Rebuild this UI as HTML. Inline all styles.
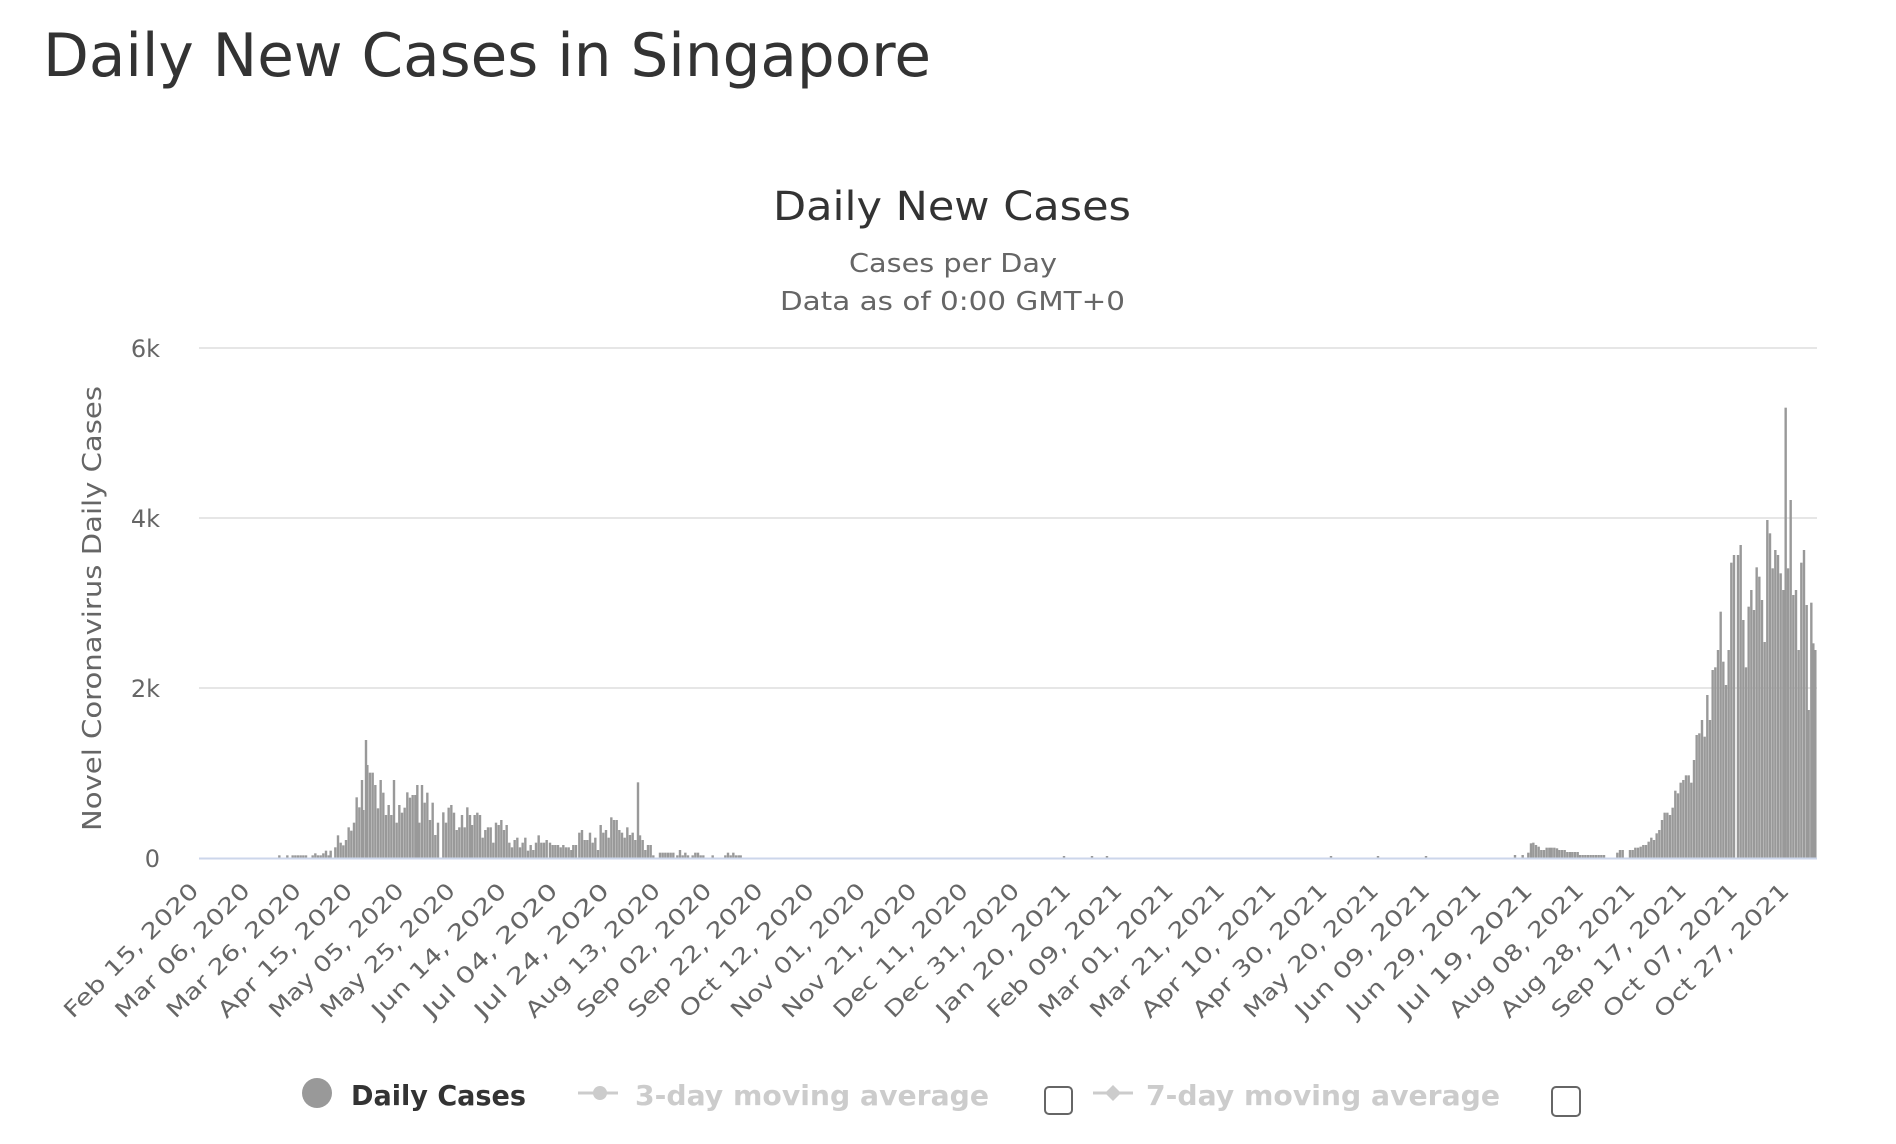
<!DOCTYPE html>
<html><head><meta charset="utf-8"><style>
html,body{margin:0;padding:0;background:#fff;width:1896px;height:1144px;overflow:hidden}
svg{display:block}
text{font-family:"DejaVu Sans","Liberation Sans",sans-serif}
</style></head><body>
<svg id="s" width="1896" height="1144" viewBox="0 0 1896 1144" xmlns="http://www.w3.org/2000/svg">
<text x="43" y="76" font-size="60" fill="#333" textLength="888" lengthAdjust="spacingAndGlyphs">Daily New Cases in Singapore</text>
<text x="773" y="220" font-size="40" fill="#333" textLength="358" lengthAdjust="spacingAndGlyphs">Daily New Cases</text>
<text x="849" y="272" font-size="26" fill="#666" textLength="208" lengthAdjust="spacingAndGlyphs">Cases per Day</text>
<text x="780" y="310" font-size="26" fill="#666" textLength="345" lengthAdjust="spacingAndGlyphs">Data as of 0:00 GMT+0</text>
<g stroke="#e6e6e6" stroke-width="2">
<line x1="199" y1="348" x2="1817" y2="348"/>
<line x1="199" y1="518" x2="1817" y2="518"/>
<line x1="199" y1="688" x2="1817" y2="688"/>
</g>
<g font-size="24" fill="#666" text-anchor="end">
<text x="160" y="357">6k</text>
<text x="160" y="527">4k</text>
<text x="160" y="697">2k</text>
<text x="160" y="867">0</text>
</g>
<text transform="translate(101,831) rotate(-90)" font-size="26" fill="#666" textLength="445" lengthAdjust="spacingAndGlyphs">Novel Coronavirus Daily Cases</text>
<g id="bars" fill="#999"></g>
<line x1="199" y1="858.5" x2="1817" y2="858.5" stroke="#ccd6eb" stroke-width="2"/>
<g id="xl" font-size="22" fill="#666" text-anchor="end"></g>
<circle cx="317" cy="1093" r="15" fill="#999"/>
<text x="351" y="1105" font-size="28" font-weight="bold" fill="#333" textLength="175" lengthAdjust="spacingAndGlyphs">Daily Cases</text>
<line x1="578" y1="1093" x2="618" y2="1093" stroke="#ccc" stroke-width="3"/>
<circle cx="600" cy="1093" r="7" fill="#ccc"/>
<text x="635" y="1105" font-size="28" font-weight="bold" fill="#ccc" textLength="354" lengthAdjust="spacingAndGlyphs">3-day moving average</text>
<rect x="1045" y="1087" width="27" height="27" rx="4" fill="#fff" stroke="#666" stroke-width="2"/>
<line x1="1093" y1="1093" x2="1133" y2="1093" stroke="#ccc" stroke-width="3"/>
<path d="M1113 1085 L1121 1093 L1113 1101 L1105 1093Z" fill="#ccc"/>
<text x="1146" y="1105" font-size="28" font-weight="bold" fill="#ccc" textLength="354" lengthAdjust="spacingAndGlyphs">7-day moving average</text>
<rect x="1552" y="1087" width="28" height="29" rx="4" fill="#fff" stroke="#666" stroke-width="2"/>
</svg>
<script>
var NS="http://www.w3.org/2000/svg";
var bars=document.getElementById("bars");
function bar(x,top){var r=document.createElementNS(NS,"rect");r.setAttribute("x",(x-1.2).toFixed(2));r.setAttribute("y",top.toFixed(2));r.setAttribute("width","2.4");r.setAttribute("height",Math.max(0,858-top).toFixed(2));bars.appendChild(r);}
var z5=[[58,376],[82,376],[98,376],[106,376],[114,376],[122,376],[130,376],[138,376],[158,376],[166,370],[174,376],[182,376],[190,370],[198,362],[206,376],[212,362],[226,352],[234,316],[242,338],[250,346],[258,330],[266,292],[274,302],[282,278],[290,202],[298,232],[306,150],[310,240],[318,30],[322,105],[330,128],[338,128],[346,165],[354,235],[362,150],[370,188],[378,255],[386,225],[394,255],[402,150],[410,278],[418,225],[426,248],[434,233],[442,187],[450,203],[458,195],[466,195],[472,165],[478,278],[486,165],[494,218],[502,188],[510,270],[518,218],[526,315],[534,278],[550,247],[558,278],[566,233],[574,225],[582,248],[590,300],[598,292],[606,255],[614,292],[622,232]];
z5.forEach(function(p){bar(260+p[0]/3,730+p[1]/3);});
var z6=[[0,255],[6,285],[14,255],[22,248],[30,255],[38,323],[46,300],[54,292],[62,292],[70,338],[78,278],[86,285],[94,270],[102,300],[110,285],[118,338],[126,352],[134,330],[142,323],[150,352],[158,338],[166,323],[174,362],[182,345],[190,360],[198,338],[206,316],[214,338],[222,338],[230,330],[240,338],[248,345],[256,345],[264,345],[272,352],[280,345],[288,352],[296,352],[304,360],[310,345],[318,345],[328,308],[336,300],[344,330],[352,330],[360,308],[368,338],[376,323],[384,360],[392,285],[400,308],[408,300],[416,323],[424,262],[432,270],[440,270],[448,300],[456,308],[464,323],[472,292],[480,315],[488,308],[496,330],[504,157],[510,316],[518,330],[526,360],[534,345],[542,345],[550,376],[570,368],[578,368],[586,368],[594,368],[602,368],[610,368],[622,376],[630,360],[638,376],[646,368],[654,376],[668,376],[676,368],[684,368],[692,376],[700,376],[728,376],[766,376],[774,368],[782,376],[790,368],[798,376],[806,376],[812,376]];
z6.forEach(function(p){bar(470+p[0]/3,730+p[1]/3);});
[1064,1092,1107,1331,1378,1426].forEach(function(x){bar(x,856);});
var z2=[[45,1425],[68,1425],[85,1418],[93,1390],[100,1388],[108,1395],[116,1400],[124,1410],[132,1410],[140,1403],[148,1403],[155,1403],[163,1403],[171,1405],[178,1410],[186,1410],[194,1410],[202,1416],[210,1416],[217,1416],[225,1416],[233,1416],[240,1425],[248,1425],[256,1425],[264,1425],[272,1425],[280,1425],[288,1425],[296,1425],[304,1425],[312,1425],[352,1418],[360,1410],[368,1410],[390,1410],[398,1410],[406,1403],[414,1403],[422,1400],[430,1395],[438,1395],[446,1385],[454,1373],[462,1380],[470,1360],[478,1350],[486,1320],[494,1298],[502,1298],[510,1305],[518,1283],[526,1232],[534,1240],[542,1208],[550,1200],[558,1186],[566,1186],[574,1208],[582,1140],[590,1065],[598,1060],[606,1020],[614,1070],[622,945],[630,1020],[638,870],[646,862],[654,810],[662,695],[670,845],[678,915],[686,810],[694,548],[702,525],[714,525],[722,495],[730,720],[738,862],[746,680],[754,630],[762,690],[770,562],[778,590],[786,660],[794,786],[802,420],[810,460],[818,565],[826,510],[834,525],[842,580],[850,630],[857,83],[864,565],[872,360],[880,645],[888,630],[896,810],[904,548],[912,510],[920,675],[926,990],[934,668],[940,790],[946,810]];
z2.forEach(function(p){bar(1500+p[0]/3,380+p[1]/3);});
var labels=["Feb 15, 2020","Mar 06, 2020","Mar 26, 2020","Apr 15, 2020","May 05, 2020","May 25, 2020","Jun 14, 2020","Jul 04, 2020","Jul 24, 2020","Aug 13, 2020","Sep 02, 2020","Sep 22, 2020","Oct 12, 2020","Nov 01, 2020","Nov 21, 2020","Dec 11, 2020","Dec 31, 2020","Jan 20, 2021","Feb 09, 2021","Mar 01, 2021","Mar 21, 2021","Apr 10, 2021","Apr 30, 2021","May 20, 2021","Jun 09, 2021","Jun 29, 2021","Jul 19, 2021","Aug 08, 2021","Aug 28, 2021","Sep 17, 2021","Oct 07, 2021","Oct 27, 2021"];
var xl=document.getElementById("xl");
labels.forEach(function(l,k){var x=199+20*k*2.565+1;var y=892;var t=document.createElementNS(NS,"text");t.setAttribute("x",x);t.setAttribute("y",y);t.setAttribute("transform","rotate(-45 "+x+" "+y+")");t.setAttribute("textLength","180");t.setAttribute("lengthAdjust","spacingAndGlyphs");t.textContent=l;xl.appendChild(t);});
</script>
</body></html>
